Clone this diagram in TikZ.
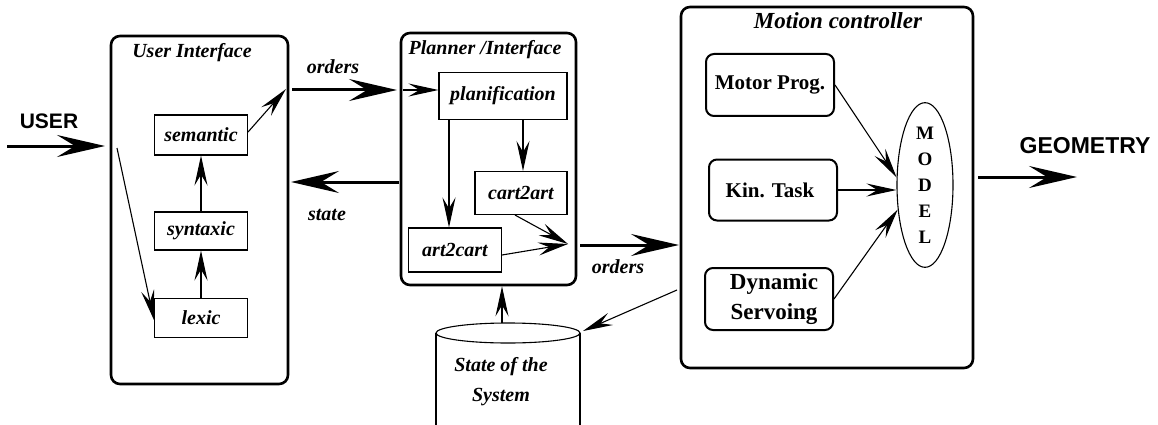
\documentclass[tikz,border=0pt]{standalone}
\usepackage{fontspec}
\setmainfont{Liberation Serif}
\newfontfamily\bigsans{Liberation Sans}
\usetikzlibrary{positioning}
\usetikzlibrary{shapes.geometric}
\usetikzlibrary{arrows.meta}

\tikzset{
	block/.style={draw, line width=2.6pt, rounded corners=9pt, inner sep=0pt},
	stage/.style={draw, line width=1.1pt, inner sep=0pt, font=\fontsize{20}{22}\selectfont\bfseries\itshape},
	module/.style={draw, line width=2pt, rounded corners=8pt, inner sep=0pt, align=center, font=\fontsize{21}{30}\selectfont\bfseries},
	lbl/.style={font=\fontsize{20}{30}\selectfont\bfseries\itshape, align=center},
	ioname/.style={font=\bigsans\bfseries},
	thinarrow/.style={line width=1.1pt, -{Stealth[length=30pt,width=13pt,inset=11pt]}},
	thickarrow/.style={line width=3pt, -{Stealth[length=48pt,width=22pt,inset=18pt]}}
}

\begin{document}
\begin{tikzpicture}[x=1pt, y=-1pt]
	\useasboundingbox (0,0) rectangle (1158,425);

	% user interface
	\node[block, minimum width=177, minimum height=348] at (199.5,210) (uibox) {};
	\node[lbl] at (192,53) (uititle) {User Interface};
	\node[stage, minimum width=93, minimum height=40] at (201,135) (semantic) {semantic};
	\node[stage, minimum width=93, minimum height=38] at (201,231) (syntaxic) {syntaxic};
	\node[stage, minimum width=93, minimum height=39] at (201,318) (lexic) {lexic};

	% planner
	\node[block, minimum width=175, minimum height=252] at (488.5,159) (plbox) {};
	\node[lbl] at (485,50) (pltitle) {Planner /Interface};
	\node[stage, minimum width=128, minimum height=47] at (503,96) (planif) {planification};
	\node[stage, minimum width=92, minimum height=43] at (521,193) (cartart) {cart2art};
	\node[stage, minimum width=93, minimum height=44] at (455,250) (artcart) {art2cart};

	% motion controller
	\node[block, minimum width=292, minimum height=361] at (827,187.5) (mcbox) {};
	\node[lbl, font=\fontsize{23}{26}\selectfont\bfseries\itshape] at (838,21) (mctitle) {Motion controller};
	\node[module, minimum width=128, minimum height=62] at (770,85) (motor) {Motor Prog.};
	\node[module, minimum width=128, minimum height=61] at (773,190) (kintask) {Kin. Task\hspace*{6pt}};
	\node[module, minimum width=128, minimum height=62, font=\fontsize{23}{30}\selectfont\bfseries] at (769,299) (dynserv) {\hspace*{10pt}Dynamic\\\hspace*{10pt}Servoing};
	\node[draw, ellipse, line width=1.1pt, minimum width=56, minimum height=157, inner sep=0pt,
		align=center, font=\fontsize{19}{26}\selectfont\bfseries] at (925,185) (model) {M\\O\\D\\E\\L};

	% state database
	\draw[line width=1.1pt] (436,440) -- (436,333) (580,333) -- (580,440);
	\draw[line width=1.1pt, fill=white] (508,333) ellipse [x radius=72, y radius=10];
	\node[lbl] at (501,382) (statedb) {State of the\\System};

	% labels
	\node[ioname, font=\bigsans\bfseries\fontsize{21}{23}\selectfont] at (49,121) (user) {USER};
	\node[ioname, font=\bigsans\bfseries\fontsize{23}{25}\selectfont] at (1085,146) (geometry) {GEOMETRY};
	\node[lbl] at (333,67) (ordersa) {orders};
	\node[lbl] at (327,215) (statelbl) {state};
	\node[lbl] at (618,267) (ordersb) {orders};

	% free ends
	\coordinate (userin) at (7,146);
	\coordinate (uiin) at (105,146);
	\coordinate (uistart) at (117,148);
	\coordinate (semout) at (286,89);
	\coordinate (orda) at (292,90);
	\coordinate (ordb) at (397,90);
	\coordinate (planin) at (403,90);
	\coordinate (statea) at (399,182);
	\coordinate (stateb) at (291,182);
	\coordinate (merge) at (568,244);
	\coordinate (mca) at (580,245);
	\coordinate (mcb) at (679,245);
	\coordinate (mcout) at (677,290);
	\coordinate (dbin) at (583,331);
	\coordinate (dbtop) at (502,323);
	\coordinate (geoa) at (978,177);
	\coordinate (geob) at (1077,177);

	% user interface flow
	\draw[thickarrow] (userin) -- (uiin);
	\draw[thinarrow] (uistart) -- ([yshift=-2pt]lexic.west);
	\draw[thinarrow] (lexic) -- (syntaxic);
	\draw[thinarrow] (syntaxic) -- (semantic);
	\draw[thinarrow] ([yshift=3pt]semantic.east) -- (semout);
	\draw[thickarrow] (orda) -- (ordb);
	\draw[thinarrow] (planin) -- (planin -| planif.west);
	\draw[thickarrow] (statea) -- (stateb);

	% planner flow
	\draw[thinarrow] ([xshift=-54pt]planif.south) -- ([xshift=-54pt]planif.south |- artcart.north);
	\draw[thinarrow] ([xshift=20pt]planif.south) -- ([xshift=20pt]planif.south |- cartart.north);
	\draw[thinarrow] ([xshift=-6pt]cartart.south) -- (merge);
	\draw[thinarrow] ([yshift=-5pt]artcart.east) -- (merge);
	\draw[thickarrow] (mca) -- (mcb);
	\draw[thinarrow] (mcout) -- (dbin);
	\draw[thinarrow] (dbtop) -- (dbtop |- plbox.south);

	% motion controller flow
	\draw[thinarrow] (motor.east) -- (model.165);
	\draw[thinarrow] (kintask.east) -- (kintask.east -| model.west);
	\draw[thinarrow] (dynserv.east) -- (model.222);
	\draw[thickarrow] (geoa) -- (geob);
\end{tikzpicture}
\end{document}
